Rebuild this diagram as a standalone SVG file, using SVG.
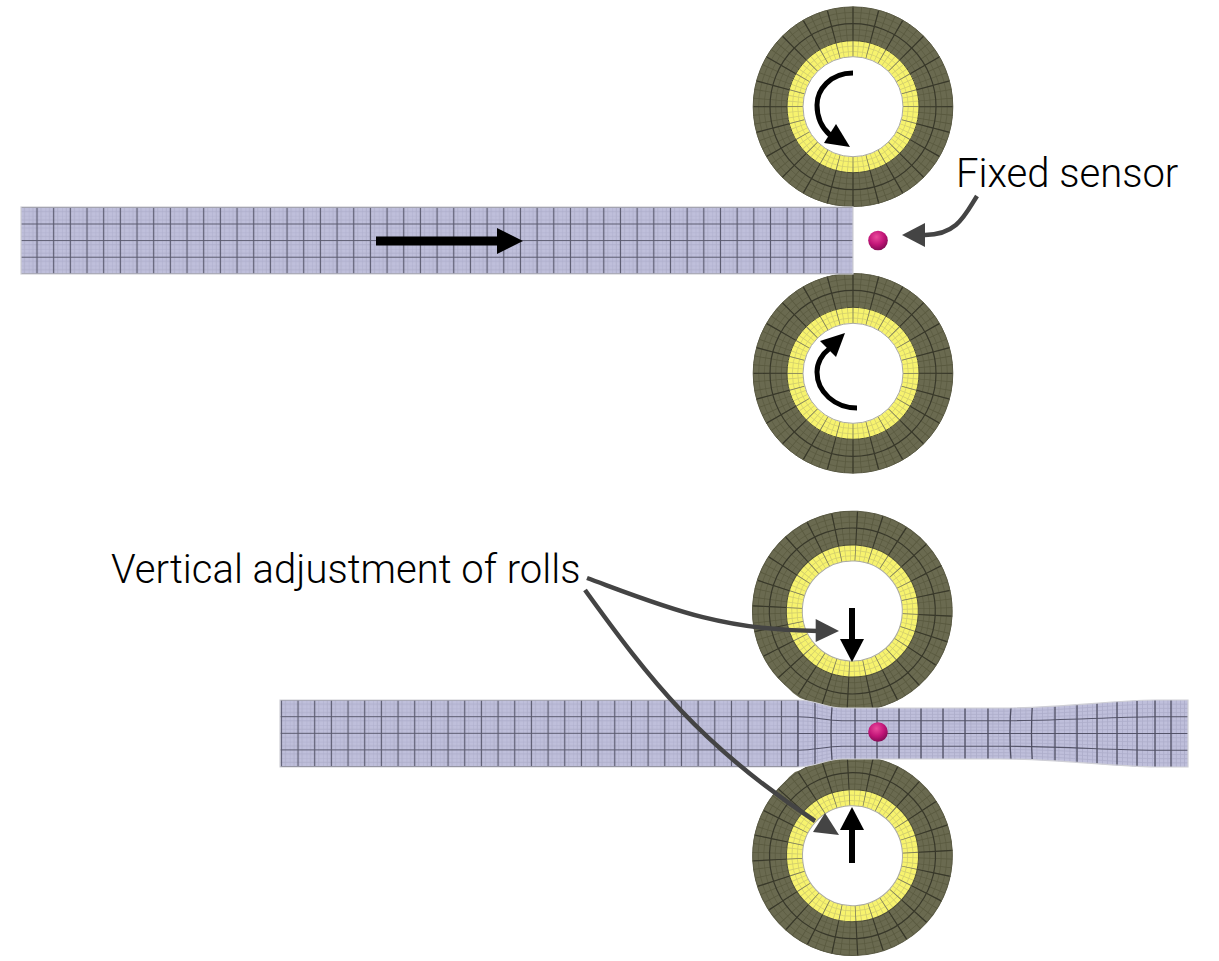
<svg xmlns="http://www.w3.org/2000/svg" xmlns:xlink="http://www.w3.org/1999/xlink" width="1219" height="961" viewBox="0 0 1219 961">
<style>
.txt{font-family:Roboto,"Liberation Sans",sans-serif;font-weight:300;fill:#000;font-size:40px}
.ring{fill:none}
.df{stroke:#59593f;stroke-width:.7;fill:none}
.yf{stroke:#d2ce6e;stroke-width:.8;fill:none}
.dm{stroke:#38382a;fill:none}
.gconn{fill:none;stroke:#444;stroke-width:4.500}
.blk{fill:none;stroke:#000}
.edge{stroke:#cfcfd6;stroke-width:1.200}
.fv{fill:none;stroke:#adadca}
.mv{fill:none;stroke:#4f4f63;stroke-width:1.300}
.fh{fill:none;stroke:#adadca;stroke-width:.8;vector-effect:non-scaling-stroke}
.mh{fill:none;stroke:#55556a;stroke-width:1.200;vector-effect:non-scaling-stroke}
</style>
<defs>
<radialGradient id="ball" cx="0.42" cy="0.32" r="0.72">
<stop offset="0" stop-color="#ea4a9c"/><stop offset="0.55" stop-color="#c21578"/><stop offset="1" stop-color="#7d0a50"/>
</radialGradient>
<pattern id="meshTop" width="16.67" height="16.6" patternUnits="userSpaceOnUse" patternTransform="translate(28.67 215.7)">
<rect width="16.67" height="16.6" fill="#bfbfdb"/>
<path d="M0 0V16.6M4.17 0V16.6M12.5 0V16.6M0 0H16.67M0 4.15H16.67M0 12.45H16.67" stroke="#adadca" stroke-width=".9" fill="none"/>
<path d="M8.33 0V16.6M0 8.3H16.67" stroke="#5a5a6e" stroke-width="1.200" fill="none"/>
</pattern>
<pattern id="meshLow" width="16.67" height="16.6" patternUnits="userSpaceOnUse" patternTransform="translate(289.7 708.4)">
<rect width="16.67" height="16.6" fill="#bfbfdb"/>
<path d="M0 0V16.6M4.17 0V16.6M12.5 0V16.6M0 0H16.67M0 4.15H16.67M0 12.45H16.67" stroke="#adadca" stroke-width=".9" fill="none"/>
<path d="M8.33 0V16.6M0 8.3H16.67" stroke="#5a5a6e" stroke-width="1.200" fill="none"/>
</pattern>
<clipPath id="lowClip"><path d="M280 700H798C815 700 825 707.500 842 708H1000C1060 708 1110 700.500 1155 700H1188V767H1155C1110 766.500 1060 759 1000 759H842C825 759.500 815 767 798 767H280Z"/></clipPath>
<path id="prof" class="fh" d="M798 -33.500C815 -33.500 825 -26 842 -25.500H1000C1060 -25.500 1110 -33 1155 -33.500H1188"/>
<path id="profM" class="mh" d="M798 -33.500C815 -33.500 825 -26 842 -25.500H1000C1060 -25.500 1110 -33 1155 -33.500H1188"/>
<g id="roll">
<circle r="83" fill="none" stroke="#6a6a50" stroke-width="34"/>
<circle r="58" fill="none" stroke="#f7f36e" stroke-width="16"/>
<g class="df"><circle r="71.700"/><circle r="77.300"/><circle r="88.700"/><circle r="94.300"/></g>
<circle class="ring" r="83" stroke="#59593f" stroke-width="34" pathLength="72" stroke-dasharray="0.1 0.9" stroke-dashoffset="0.05"/>
<g class="yf"><circle r="55.300"/><circle r="60.700"/></g>
<circle class="ring" r="58" stroke="#d2ce6e" stroke-width="16" pathLength="72" stroke-dasharray="0.16 0.84" stroke-dashoffset="0.08"/>
<circle class="ring" r="74.500" stroke="#38382a" stroke-width="17" pathLength="24" stroke-dasharray="0.055 0.945" stroke-dashoffset="0.0275"/>
<circle class="ring" r="91.500" stroke="#38382a" stroke-width="17" pathLength="24" stroke-dasharray="0.05 0.95" stroke-dashoffset="0.025"/>
<circle class="ring" r="58" stroke="#7c7c5a" stroke-width="16" pathLength="24" stroke-dasharray="0.05 0.95" stroke-dashoffset="0.025"/>
<circle class="dm" r="83" stroke-width="1.200"/>
<circle r="66" fill="none" stroke="#4a4a36" stroke-width="1"/>
<circle r="50" fill="#fff" stroke="#aaaaa0" stroke-width="1"/>
<circle r="99.800" fill="none" stroke="#5a5a44" stroke-width="1"/>
</g>
</defs>

<g id="roll-top-1"><use xlink:href="#roll" href="#roll" transform="translate(853 106.700)"/></g>
<g id="roll-bottom-1"><use xlink:href="#roll" href="#roll" transform="translate(853 373.300)"/></g>
<g id="roll-top-2">
<path d="M775 668Q786 690 800 698L822 706L840 700L800 670Z" fill="#6a6a50"/>
<use xlink:href="#roll" href="#roll" transform="translate(852.300 611) rotate(3)"/>
</g>
<g id="roll-bottom-2">
<path d="M775 798Q784 780 795 772L818 764L840 770L800 795Z" fill="#6a6a50"/>
<use xlink:href="#roll" href="#roll" transform="translate(852.500 855.700) rotate(-3)"/>
</g>

<g id="strip-top">
<rect x="21" y="207" width="832" height="67" fill="url(#meshTop)" class="edge"/>
</g>

<g id="strip-bottom">
<g clip-path="url(#lowClip)">
<rect x="280" y="700" width="908" height="67" fill="#bfbfdb"/>
<rect x="280" y="700" width="518" height="67" fill="url(#meshLow)"/>
<g class="fv">
<path d="M798 733.500H855" stroke-dasharray=".8 3.950" style="stroke-width:70"/>
<path d="M855 733.500H1077" stroke-dasharray=".8 4.700" style="stroke-width:70"/>
<path d="M1077 733.500H1155" stroke-dasharray=".8 4.200" style="stroke-width:70"/>
<path d="M1155 733.500H1188" stroke-dasharray=".8 3.370" style="stroke-width:70"/>
</g>
<g transform="translate(0 733.500)">
<use href="#prof" transform="scale(1 .125)"/><use href="#prof" transform="scale(1 .25)"/><use href="#prof" transform="scale(1 .375)"/><use href="#prof" transform="scale(1 .625)"/><use href="#prof" transform="scale(1 .75)"/><use href="#prof" transform="scale(1 .875)"/>
<use href="#prof" transform="scale(1 -.125)"/><use href="#prof" transform="scale(1 -.25)"/><use href="#prof" transform="scale(1 -.375)"/><use href="#prof" transform="scale(1 -.625)"/><use href="#prof" transform="scale(1 -.75)"/><use href="#prof" transform="scale(1 -.875)"/>
<use href="#profM" transform="scale(1 .5)"/><use href="#profM" transform="scale(1 -.5)"/><path class="mh" d="M798 0H1188"/>
</g>
<path class="mv" d="M798 695V772M815 695V772M833 695Q829 733 833 772M855 695V772M877 695V772M899 695V772M921 695V772M943 695V772M965 695V772M988 695V772M1012 695Q1008 733 1012 772M1033 695Q1030 733 1033 772M1055 695V772M1077 695V772M1097 695V772M1117 695V772M1137 695V772M1155 695V772M1171 695V772"/>
</g>
<path d="M280 700H798C815 700 825 707.500 842 708H1000C1060 708 1110 700.500 1155 700H1188V767H1155C1110 766.500 1060 759 1000 759H842C825 759.500 815 767 798 767H280Z" fill="none" class="edge"/>
</g>

<g id="sensor-1"><circle cx="878" cy="240.500" r="9.800" fill="url(#ball)"/></g>
<g id="sensor-2"><circle cx="878" cy="732" r="9.800" fill="url(#ball)"/></g>

<g id="connectors">
<path d="M376 241H498" class="blk" stroke-width="9"/>
<path d="M497 228L523 241L497 254Z" fill="#000"/>
<path d="M853 73C830 73 817 90 817 105C817 118 822 128 830 135" class="blk" stroke-width="5"/>
<path d="M836 124L824 143L850 147Z" fill="#000"/>
<path d="M857 408C835 408 817 392 817 372C817 363 822 354 829 349" class="blk" stroke-width="5"/>
<path d="M820 341L845 333L836 357Z" fill="#000"/>
<path d="M852 608V642" class="blk" stroke-width="6"/>
<path d="M840 639H864L852 662Z" fill="#000"/>
<path d="M852 830V863" class="blk" stroke-width="6"/>
<path d="M840 830H864L852 807Z" fill="#000"/>
<path d="M977 196C965 215 957 235 925 235" class="gconn"/>
<path d="M902 235L925 223V247Z" fill="#444"/>
<path d="M587 578C660 605 720 631 818 631" class="gconn"/>
<path d="M815.700 619L839 631L815.700 642Z" fill="#444"/>
<path d="M585 590C650 680 700 745 815 821" class="gconn"/>
<path d="M825 813L839 835L813 832Z" fill="#444"/>
</g>

<text class="txt" x="956" y="187">Fixed sensor</text>
<text class="txt" x="111" y="583">Vertical adjustment of rolls</text>
</svg>
